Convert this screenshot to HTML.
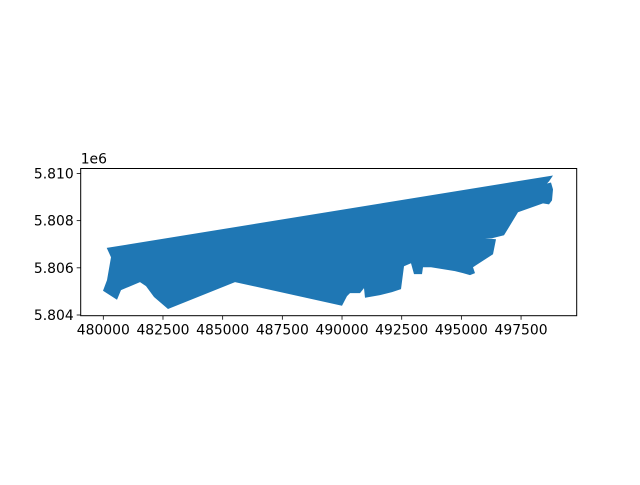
<!DOCTYPE html>
<html><head><meta charset="utf-8"><style>
body{margin:0;background:#fff;}
svg text{font-family:"DejaVu Sans",sans-serif;font-size:13.9px;fill:#000;}
</style></head><body>
<svg id="chart" width="640" height="480" xmlns="http://www.w3.org/2000/svg" font-family="DejaVu Sans, sans-serif" font-size="13.9"></svg>
<script>
const xTicks = [480000, 482500, 485000, 487500, 490000, 492500, 495000, 497500];
const yTicks = [5804000, 5806000, 5808000, 5810000];
const yTickLabels = ["5.804", "5.806", "5.808", "5.810"];
const polyX = [480142,480323,480155,479987,480574,480741,481537,481789,482124,482710,485517,489999,490209,490334,490753,490921,490963,491591,492094,492471,492596,492890,493015,493350,493392,493727,494733,495068,495361,495571,495487,495613,496325,496450,495989,496283,496785,497372,498419,498670,498796,498838,498754,498587,498670,498838];
const polyY = [5806843,5806451,5805479,5805027,5804646,5805056,5805394,5805225,5804761,5804254,5805394,5804393,5804803,5804930,5804930,5805141,5804731,5804845,5804972,5805099,5806070,5806197,5805732,5805732,5806028,5806028,5805859,5805775,5805690,5805775,5806028,5806113,5806577,5807211,5807253,5807253,5807380,5808352,5808732,5808690,5808859,5809324,5809619,5809577,5809662,5809915];

const L=80.7,R=576.7,T=168.5,B=315.7;
const xmin=479053,xmax=499831,ymin=5803970,ymax=5810211;
const sx=v=>L+(v-xmin)/(xmax-xmin)*(R-L);
const sy=v=>B-(v-ymin)/(ymax-ymin)*(B-T);
const svg=document.getElementById('chart');
const NS="http://www.w3.org/2000/svg";
function mk(tag,attrs){const e=document.createElementNS(NS,tag);for(const k in attrs)e.setAttribute(k,attrs[k]);svg.appendChild(e);return e;}

const pts=polyX.map((x,i)=>sx(x).toFixed(1)+','+sy(polyY[i]).toFixed(1)).join(' ');
const poly=mk('polygon',{points:pts,fill:'#1f77b4'});



const frame=mk('rect',{x:L,y:T,width:R-L,height:B-T,fill:'none',stroke:'#000','stroke-width':1});



xTicks.forEach(v=>{
  const x=sx(v);
  const t=mk('line',{x1:x,x2:x,y1:B,y2:B+4,stroke:'#000','stroke-width':0.8});
  
  
  const l=mk('text',{x:x,y:B+19,'text-anchor':'middle'});
  l.textContent=String(v);
  
  
});
yTicks.forEach((v,i)=>{
  const y=sy(v);
  const t=mk('line',{x1:L-4,x2:L,y1:y,y2:y,stroke:'#000','stroke-width':0.8});
  
  
  const l=mk('text',{x:L-7,y:y+5,'text-anchor':'end'});
  l.textContent=yTickLabels[i];
  
  
});
const off=mk('text',{x:L,y:T-5});
off.textContent='1e6';


</script>
</body></html>
